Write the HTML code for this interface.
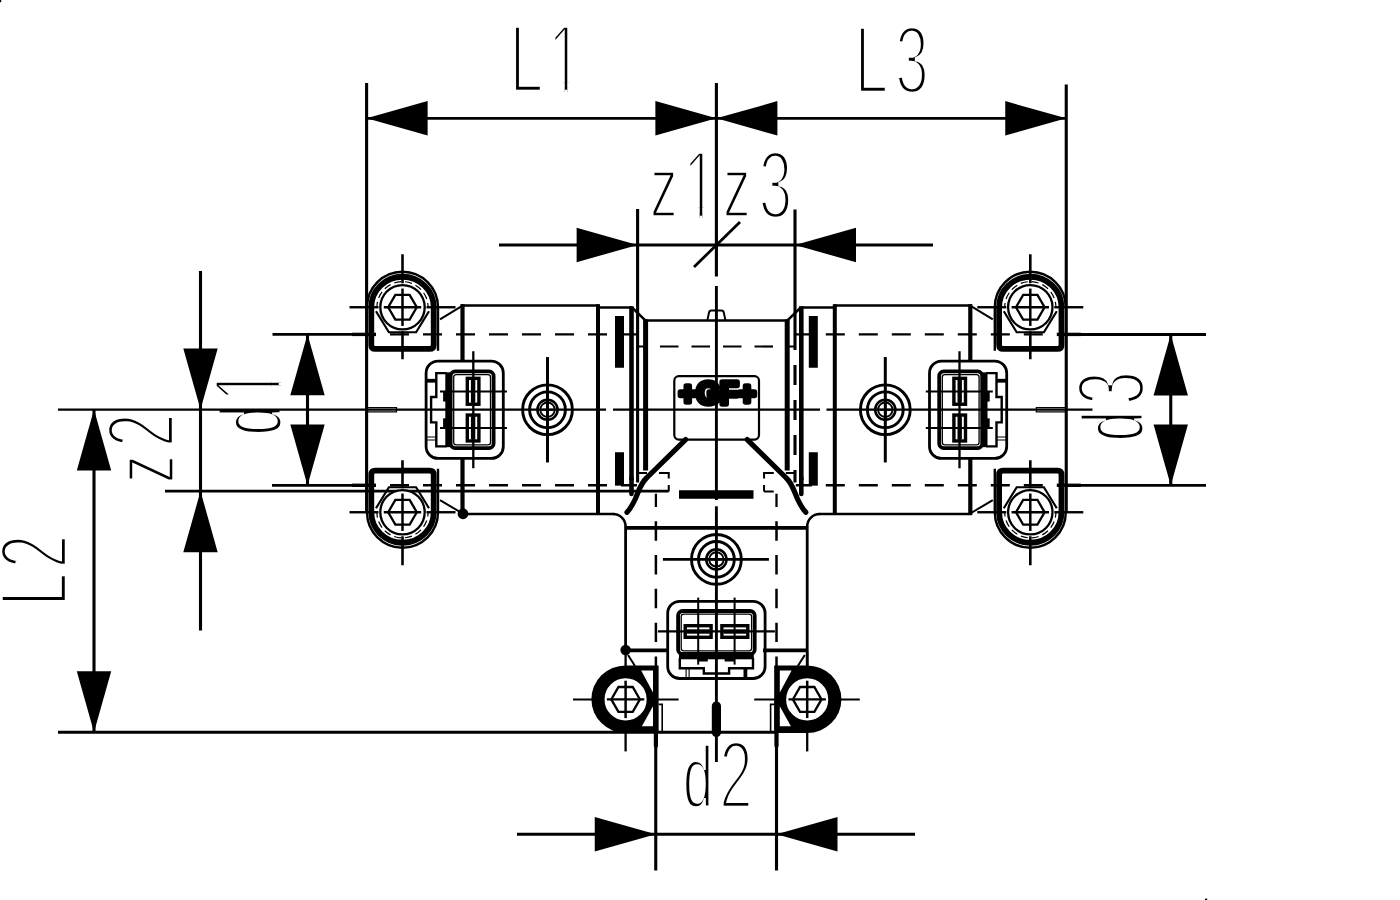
<!DOCTYPE html>
<html lang="en">
<head>
<meta charset="utf-8">
<title>T-fitting dimension drawing</title>
<style>
html,body{margin:0;padding:0;background:#fff;}
body{width:1400px;height:900px;overflow:hidden;}
svg{display:block;}
text{font-family:"Liberation Sans",sans-serif;}
.t text{font-size:97.0px;fill:#000;stroke:#fff;stroke-width:4.4px;stroke-linejoin:miter;}
.logo text{font-family:"Liberation Sans",sans-serif;font-weight:bold;fill:#000;stroke:#000;stroke-linejoin:round;}
</style>
</head>
<body>
<svg width="1400" height="900" viewBox="0 0 1400 900">
<rect x="0" y="0" width="1400" height="900" fill="#fff"/>
<clipPath id="c1" clipPathUnits="userSpaceOnUse"><rect x="-2000" y="-200" width="5000" height="189.95"/><rect x="910.82" y="-40" width="4.17" height="60"/><rect x="-2000" y="-200" width="2887.07" height="260"/><rect x="938.22" y="-200" width="2000" height="260"/></clipPath><clipPath id="c2" clipPathUnits="userSpaceOnUse"><rect x="-2000" y="-200" width="5000" height="189.95"/><rect x="1128.56" y="-40" width="4.17" height="60"/><rect x="-2000" y="-200" width="3104.81" height="260"/><rect x="1155.96" y="-200" width="2000" height="260"/></clipPath><clipPath id="c3" clipPathUnits="userSpaceOnUse"><rect x="-2000" y="-200" width="5000" height="189.95"/><rect x="830.17" y="-40" width="4.17" height="60"/><rect x="-2000" y="-200" width="2806.42" height="260"/><rect x="857.57" y="-200" width="2000" height="260"/></clipPath>
<g class="t"><text aria-label="L1" transform="translate(0,92.2) scale(0.62,1)" clip-path="url(#c1)"><tspan x="822.1" y="0">L</tspan><tspan x="884.22" y="0">1</tspan></text>
<text aria-label="L3" transform="translate(0,93.2) scale(0.62,1)"><tspan x="1378.55" y="0">L</tspan><tspan x="1444.11" y="0">3</tspan></text>
<text aria-label="z1" transform="translate(0,217.7) scale(0.62,1)" clip-path="url(#c2)"><tspan x="1048.8" y="-0.53" style="font-size:87.78px;stroke-width:3.34px">z</tspan><tspan x="1101.97" y="0">1</tspan></text>
<text aria-label="z3" transform="translate(0,217.7) scale(0.62,1)"><tspan x="1166.54" y="-0.53" style="font-size:87.78px;stroke-width:3.34px">z</tspan><tspan x="1223.94" y="0">3</tspan></text>
<text aria-label="d2" transform="translate(0,807.7) scale(0.62,1)"><tspan x="1101.56" y="-0.57" style="font-size:87.3px;stroke-width:3.26px">d</tspan><tspan x="1160.26" y="0">2</tspan></text>
<text aria-label="d1" transform="translate(281.2,900) rotate(-90) scale(0.62,1)" clip-path="url(#c3)"><tspan x="749.54" y="-0.57" style="font-size:87.3px;stroke-width:3.26px">d</tspan><tspan x="803.58" y="0">1</tspan></text>
<text aria-label="z2" transform="translate(174.2,900) rotate(-90) scale(0.62,1)"><tspan x="673" y="-0.53" style="font-size:87.78px;stroke-width:3.34px">z</tspan><tspan x="730.82" y="0">2</tspan></text>
<text aria-label="L2" transform="translate(67.2,900) rotate(-90) scale(0.62,1)"><tspan x="473.71" y="0">L</tspan><tspan x="535.26" y="0">2</tspan></text>
<text aria-label="d3" transform="translate(1143.95,900) rotate(-90) scale(0.62,1)"><tspan x="739.87" y="-0.57" style="font-size:87.3px;stroke-width:3.26px">d</tspan><tspan x="798.94" y="0">3</tspan></text></g>
<g class="d" fill="none" stroke="#000"><line x1="366.6" y1="83" x2="366.6" y2="512" stroke-width="3.1"/>
<line x1="1066.25" y1="84.5" x2="1066.25" y2="512" stroke-width="3.1"/>
<line x1="366.6" y1="118.3" x2="1066.25" y2="118.3" stroke-width="2.8"/>
<polygon points="366.6,118.3 427.6,101.1 427.6,135.5" fill="#000" stroke="none"/>
<polygon points="716.4,118.3 655.4,135.5 655.4,101.1" fill="#000" stroke="none"/>
<polygon points="716.4,118.3 777.4,101.1 777.4,135.5" fill="#000" stroke="none"/>
<polygon points="1066.25,118.3 1005.25,135.5 1005.25,101.1" fill="#000" stroke="none"/>
<line x1="637.6" y1="209" x2="637.6" y2="482.5" stroke-width="3.1"/>
<line x1="795" y1="209.5" x2="795" y2="350" stroke-width="3.1"/>
<line x1="795" y1="365" x2="795" y2="482.5" stroke-width="3.1" stroke-dasharray="20 15"/>
<line x1="499" y1="245" x2="933" y2="245" stroke-width="2.8"/>
<polygon points="637.6,245 576.6,262.2 576.6,227.8" fill="#000" stroke="none"/>
<polygon points="795,245 856,227.8 856,262.2" fill="#000" stroke="none"/>
<line x1="694" y1="267" x2="740" y2="222" stroke-width="2.8"/>
<line x1="272.5" y1="334.3" x2="367" y2="334.3" stroke-width="2.8"/>
<line x1="272" y1="485.4" x2="367" y2="485.4" stroke-width="2.8"/>
<line x1="307.5" y1="334.3" x2="307.5" y2="485.4" stroke-width="3.1"/>
<polygon points="307.5,334.3 324.7,395.3 290.3,395.3" fill="#000" stroke="none"/>
<polygon points="307.5,485.4 290.3,424.4 324.7,424.4" fill="#000" stroke="none"/>
<line x1="165" y1="491.2" x2="668.75" y2="491.2" stroke-width="2.8"/>
<line x1="200.5" y1="271" x2="200.5" y2="630.5" stroke-width="3.1"/>
<polygon points="200.5,409.6 183.3,348.6 217.7,348.6" fill="#000" stroke="none"/>
<polygon points="200.5,491.2 217.7,552.2 183.3,552.2" fill="#000" stroke="none"/>
<line x1="58" y1="732.3" x2="776" y2="732.3" stroke-width="2.9"/>
<line x1="94" y1="409.6" x2="94" y2="732.3" stroke-width="3.1"/>
<polygon points="94,409.6 111.2,470.6 76.8,470.6" fill="#000" stroke="none"/>
<polygon points="94,732.3 76.8,671.3 111.2,671.3" fill="#000" stroke="none"/>
<line x1="1057" y1="334.5" x2="1206" y2="334.5" stroke-width="2.8"/>
<line x1="1057" y1="485.4" x2="1206" y2="485.4" stroke-width="2.8"/>
<line x1="1170.75" y1="334.5" x2="1170.75" y2="485.4" stroke-width="3.1"/>
<polygon points="1170.75,334.5 1187.95,395.5 1153.55,395.5" fill="#000" stroke="none"/>
<polygon points="1170.75,485.4 1153.55,424.4 1187.95,424.4" fill="#000" stroke="none"/>
<line x1="655.75" y1="700" x2="655.75" y2="870.5" stroke-width="3.1"/>
<line x1="776.5" y1="700" x2="776.5" y2="870.5" stroke-width="3.1"/>
<line x1="517" y1="834.25" x2="915" y2="834.25" stroke-width="2.8"/>
<polygon points="655.75,834.25 594.75,851.45 594.75,817.05" fill="#000" stroke="none"/>
<polygon points="776.5,834.25 837.5,817.05 837.5,851.45" fill="#000" stroke="none"/>
<line x1="58" y1="409.6" x2="606" y2="409.6" stroke-width="2.4"/>
<line x1="613" y1="409.6" x2="820" y2="409.6" stroke-width="2.4"/>
<line x1="826.5" y1="409.6" x2="1092.5" y2="409.6" stroke-width="2.4"/>
<line x1="716.4" y1="83" x2="716.4" y2="276.5" stroke-width="3.1"/>
<line x1="716.4" y1="286" x2="716.4" y2="500" stroke-width="2.9"/>
<line x1="716.4" y1="506.3" x2="716.4" y2="762" stroke-width="2.9"/></g>
<g class="b" fill="none" stroke="#000"><g transform="translate(402.5,307.25) scale(1,1)"><line x1="-53" y1="0" x2="-24" y2="0" stroke-width="2.4"/><line x1="24" y1="0" x2="53" y2="0" stroke-width="2.4"/><line x1="0" y1="-53" x2="0" y2="-24" stroke-width="2.6"/><line x1="0" y1="24" x2="0" y2="52" stroke-width="2.6"/><path d="M -35.5,0 A 35.5 35.5 0 0 1 35.5,0 L 35.5,43.5" stroke-width="2.4"/><path d="M -31.2,0 A 31.2 30.5 0 0 1 31.2,0 L 31.2,37.7 Q 31.2,41.7 27.2,41.7 L -27.2,41.7 Q -31.2,41.7 -31.2,37.7 Z" stroke-width="5.8"/><path d="M -25.6,0 A 25.6 25.6 0 0 1 25.6,0" stroke-width="1.2" stroke-dasharray="7 4" stroke-dashoffset="1.5"/><path d="M -26.5,4 L -13.6,25 L 13.6,25 L 26.5,4" stroke-width="2.2"/></g>
<circle cx="402.5" cy="307.25" r="22.2" stroke-width="2.3" fill="#fff"/>
<polygon points="416.8,307.25 409.65,319.63 395.35,319.63 388.2,307.25 395.35,294.87 409.65,294.87" stroke-width="2.3"/>
<line x1="383.8" y1="307.25" x2="421.2" y2="307.25" stroke-width="2.3"/>
<line x1="402.5" y1="288.55" x2="402.5" y2="325.95" stroke-width="2.5"/>
<g transform="translate(402.5,512.25) scale(1,-1)"><line x1="-53" y1="0" x2="-24" y2="0" stroke-width="2.4"/><line x1="24" y1="0" x2="53" y2="0" stroke-width="2.4"/><line x1="0" y1="-53" x2="0" y2="-24" stroke-width="2.6"/><line x1="0" y1="24" x2="0" y2="52" stroke-width="2.6"/><path d="M -35.5,0 A 35.5 35.5 0 0 1 35.5,0 L 35.5,43.5" stroke-width="2.4"/><path d="M -31.2,0 A 31.2 30.5 0 0 1 31.2,0 L 31.2,37.7 Q 31.2,41.7 27.2,41.7 L -27.2,41.7 Q -31.2,41.7 -31.2,37.7 Z" stroke-width="5.8"/><path d="M -25.6,0 A 25.6 25.6 0 0 1 25.6,0" stroke-width="1.2" stroke-dasharray="7 4" stroke-dashoffset="1.5"/><path d="M -26.5,4 L -13.6,25 L 13.6,25 L 26.5,4" stroke-width="2.2"/></g>
<circle cx="402.5" cy="512.25" r="22.2" stroke-width="2.3" fill="#fff"/>
<polygon points="416.8,512.25 409.65,524.63 395.35,524.63 388.2,512.25 395.35,499.87 409.65,499.87" stroke-width="2.3"/>
<line x1="383.8" y1="512.25" x2="421.2" y2="512.25" stroke-width="2.3"/>
<line x1="402.5" y1="493.55" x2="402.5" y2="530.95" stroke-width="2.5"/>
<g transform="translate(1030.3,307.25) scale(-1,1)"><line x1="-53" y1="0" x2="-24" y2="0" stroke-width="2.4"/><line x1="24" y1="0" x2="53" y2="0" stroke-width="2.4"/><line x1="0" y1="-53" x2="0" y2="-24" stroke-width="2.6"/><line x1="0" y1="24" x2="0" y2="52" stroke-width="2.6"/><path d="M -35.5,0 A 35.5 35.5 0 0 1 35.5,0 L 35.5,43.5" stroke-width="2.4"/><path d="M -31.2,0 A 31.2 30.5 0 0 1 31.2,0 L 31.2,37.7 Q 31.2,41.7 27.2,41.7 L -27.2,41.7 Q -31.2,41.7 -31.2,37.7 Z" stroke-width="5.8"/><path d="M -25.6,0 A 25.6 25.6 0 0 1 25.6,0" stroke-width="1.2" stroke-dasharray="7 4" stroke-dashoffset="1.5"/><path d="M -26.5,4 L -13.6,25 L 13.6,25 L 26.5,4" stroke-width="2.2"/></g>
<circle cx="1030.3" cy="307.25" r="22.2" stroke-width="2.3" fill="#fff"/>
<polygon points="1044.6,307.25 1037.45,319.63 1023.15,319.63 1016,307.25 1023.15,294.87 1037.45,294.87" stroke-width="2.3"/>
<line x1="1011.6" y1="307.25" x2="1049" y2="307.25" stroke-width="2.3"/>
<line x1="1030.3" y1="288.55" x2="1030.3" y2="325.95" stroke-width="2.5"/>
<g transform="translate(1030.3,512.25) scale(-1,-1)"><line x1="-53" y1="0" x2="-24" y2="0" stroke-width="2.4"/><line x1="24" y1="0" x2="53" y2="0" stroke-width="2.4"/><line x1="0" y1="-53" x2="0" y2="-24" stroke-width="2.6"/><line x1="0" y1="24" x2="0" y2="52" stroke-width="2.6"/><path d="M -35.5,0 A 35.5 35.5 0 0 1 35.5,0 L 35.5,43.5" stroke-width="2.4"/><path d="M -31.2,0 A 31.2 30.5 0 0 1 31.2,0 L 31.2,37.7 Q 31.2,41.7 27.2,41.7 L -27.2,41.7 Q -31.2,41.7 -31.2,37.7 Z" stroke-width="5.8"/><path d="M -25.6,0 A 25.6 25.6 0 0 1 25.6,0" stroke-width="1.2" stroke-dasharray="7 4" stroke-dashoffset="1.5"/><path d="M -26.5,4 L -13.6,25 L 13.6,25 L 26.5,4" stroke-width="2.2"/></g>
<circle cx="1030.3" cy="512.25" r="22.2" stroke-width="2.3" fill="#fff"/>
<polygon points="1044.6,512.25 1037.45,524.63 1023.15,524.63 1016,512.25 1023.15,499.87 1037.45,499.87" stroke-width="2.3"/>
<line x1="1011.6" y1="512.25" x2="1049" y2="512.25" stroke-width="2.3"/>
<line x1="1030.3" y1="493.55" x2="1030.3" y2="530.95" stroke-width="2.5"/>
<g><line x1="440" y1="319.4" x2="463" y2="305.4" stroke-width="2"/><line x1="440" y1="500.1" x2="463" y2="513.75" stroke-width="2"/><line x1="461" y1="305.4" x2="599" y2="305.4" stroke-width="2.5"/><line x1="461" y1="513.9" x2="614" y2="513.9" stroke-width="2.5"/><line x1="462.5" y1="304.2" x2="462.5" y2="362" stroke-width="4.2"/><line x1="462.5" y1="458" x2="462.5" y2="515" stroke-width="4.2"/><line x1="598" y1="304.2" x2="598" y2="515" stroke-width="4"/><line x1="598" y1="307.5" x2="632" y2="307.5" stroke-width="2.5"/><line x1="631.5" y1="306.3" x2="631.5" y2="480" stroke-width="4.6"/><path d="M 631.5,478 L 631.5,494" stroke-width="4.6" stroke-linecap="round"/><line x1="632" y1="307.5" x2="645.6" y2="320.6" stroke-width="2.5"/><line x1="645.6" y1="319.4" x2="645.6" y2="470.6" stroke-width="5"/><line x1="637.5" y1="346.5" x2="645.6" y2="346.5" stroke-width="2"/><line x1="637.5" y1="473" x2="647" y2="473" stroke-width="2"/><rect x="615" y="316" width="9" height="51.75" fill="#000" stroke="none"/><rect x="615" y="452.25" width="9" height="33.4" fill="#000" stroke="none"/><line x1="390" y1="334.4" x2="637" y2="334.4" stroke-width="2.4" stroke-dasharray="19 14"/><line x1="390" y1="485.3" x2="637" y2="485.3" stroke-width="2.4" stroke-dasharray="19 14"/><path d="M 613,513.9 A 12.6 12.6 0 0 1 625.6,526.5" stroke-width="2.5"/><path d="M 685.6,439.6 L 647,477.5 C 640,484 638.5,492 635.5,498.5 C 633,504 630.5,508.5 627,512.3" stroke-width="5.2" stroke-linecap="round" stroke-linejoin="round"/><path d="M 659,473 L 668.75,473 L 668.75,478.5 M 668.75,485 L 668.75,491.5" stroke-width="2"/><path d="M 367,407.6 L 396.5,407.6 L 396.5,411.8 L 367,411.8" stroke-width="1.2"/><line x1="352" y1="334.4" x2="376" y2="334.4" stroke-width="3.4"/><line x1="352" y1="485.3" x2="376" y2="485.3" stroke-width="3.4"/></g>
<g transform="translate(1432.8,0) scale(-1,1)"><line x1="440" y1="319.4" x2="463" y2="305.4" stroke-width="2"/><line x1="440" y1="500.1" x2="463" y2="513.75" stroke-width="2"/><line x1="461" y1="305.4" x2="599" y2="305.4" stroke-width="2.5"/><line x1="461" y1="513.9" x2="614" y2="513.9" stroke-width="2.5"/><line x1="462.5" y1="304.2" x2="462.5" y2="362" stroke-width="4.2"/><line x1="462.5" y1="458" x2="462.5" y2="515" stroke-width="4.2"/><line x1="598" y1="304.2" x2="598" y2="515" stroke-width="4"/><line x1="598" y1="307.5" x2="632" y2="307.5" stroke-width="2.5"/><line x1="631.5" y1="306.3" x2="631.5" y2="480" stroke-width="4.6"/><path d="M 631.5,478 L 631.5,494" stroke-width="4.6" stroke-linecap="round"/><line x1="632" y1="307.5" x2="645.6" y2="320.6" stroke-width="2.5"/><line x1="645.6" y1="319.4" x2="645.6" y2="470.6" stroke-width="5"/><line x1="637.5" y1="346.5" x2="645.6" y2="346.5" stroke-width="2"/><line x1="637.5" y1="473" x2="647" y2="473" stroke-width="2"/><rect x="615" y="316" width="9" height="51.75" fill="#000" stroke="none"/><rect x="615" y="452.25" width="9" height="33.4" fill="#000" stroke="none"/><line x1="390" y1="334.4" x2="637" y2="334.4" stroke-width="2.4" stroke-dasharray="19 14"/><line x1="390" y1="485.3" x2="637" y2="485.3" stroke-width="2.4" stroke-dasharray="19 14"/><path d="M 613,513.9 A 12.6 12.6 0 0 1 625.6,526.5" stroke-width="2.5"/><path d="M 685.6,439.6 L 647,477.5 C 640,484 638.5,492 635.5,498.5 C 633,504 630.5,508.5 627,512.3" stroke-width="5.2" stroke-linecap="round" stroke-linejoin="round"/><path d="M 659,473 L 668.75,473 L 668.75,478.5 M 668.75,485 L 668.75,491.5" stroke-width="2"/><path d="M 367,407.6 L 396.5,407.6 L 396.5,411.8 L 367,411.8" stroke-width="1.2"/><line x1="352" y1="334.4" x2="376" y2="334.4" stroke-width="3.4"/><line x1="352" y1="485.3" x2="376" y2="485.3" stroke-width="3.4"/></g>
<line x1="764" y1="491.5" x2="773.75" y2="491.5" stroke-width="2"/>
<circle cx="463" cy="513.75" r="5.4" fill="#000" stroke="none"/>
<line x1="645.6" y1="320.6" x2="787.2" y2="320.6" stroke-width="2.5"/>
<path d="M 707.3,320.6 L 709,312.6 Q 709.4,310.6 711.4,310.6 L 721.4,310.6 Q 723.4,310.6 723.8,312.6 L 725.5,320.6" stroke-width="2"/>
<line x1="660" y1="346.5" x2="773" y2="346.5" stroke-width="2.2" stroke-dasharray="18.5 13"/>
<rect x="679" y="490.25" width="74.5" height="8.5" rx="0" fill="#000" stroke="none"/>
<line x1="625.6" y1="527.9" x2="807.2" y2="527.9" stroke-width="3.6"/>
<line x1="625.6" y1="526" x2="625.6" y2="650" stroke-width="2.8"/>
<line x1="807.2" y1="526" x2="807.2" y2="668" stroke-width="2.8"/>
<line x1="655.9" y1="521.25" x2="655.9" y2="700" stroke-width="2.5" stroke-dasharray="19.4 14.4"/>
<line x1="776.5" y1="521.25" x2="776.5" y2="700" stroke-width="2.5" stroke-dasharray="19.4 14.4"/>
<line x1="655.9" y1="493.75" x2="655.9" y2="507" stroke-width="2.3"/>
<line x1="776.5" y1="493.75" x2="776.5" y2="507" stroke-width="2.3"/>
<circle cx="625.6" cy="650" r="5.2" fill="#000" stroke="none"/>
<line x1="625.6" y1="650.4" x2="669" y2="650.4" stroke-width="3.6"/>
<line x1="763" y1="650.4" x2="807.2" y2="650.4" stroke-width="3.6"/>
<line x1="628" y1="655" x2="635" y2="666" stroke-width="2"/>
<line x1="804.8" y1="655" x2="797.8" y2="666" stroke-width="2"/>
<path d="M 655.9,700 L 655.9,746" stroke-width="4.2" stroke-linecap="round"/>
<path d="M 776.5,700 L 776.5,746" stroke-width="4.2" stroke-linecap="round"/>
<path d="M 716.4,706 L 716.4,732.5" stroke-width="9.2" stroke-linecap="round"/>
<g transform="translate(625.6,699.4) scale(1,1)"><line x1="-52.6" y1="0" x2="53" y2="0" stroke-width="2"/><line x1="0" y1="-48" x2="0" y2="52" stroke-width="2.3"/><path d="M 0,-34 L 33,-34 L 33,33.6 L 0,33.6 A 34.2 33.8 0 0 1 0,-34 Z" fill="#000" stroke="none"/><polygon points="15.6,-28.8 27.4,-28.8 27.4,-6.9" fill="#fff" stroke="none"/><polygon points="27.4,6.9 27.4,26.9 16.3,26.9" fill="#fff" stroke="none"/><path d="M 33,5 L 36.6,5 L 36.6,32" stroke-width="1.6"/></g>
<circle cx="625.6" cy="699.4" r="22.2" stroke-width="2.3" fill="#fff"/>
<polygon points="639.9,699.4 632.75,711.78 618.45,711.78 611.3,699.4 618.45,687.02 632.75,687.02" stroke-width="2.3"/>
<line x1="606.9" y1="699.4" x2="644.3" y2="699.4" stroke-width="2.3"/>
<line x1="625.6" y1="680.7" x2="625.6" y2="718.1" stroke-width="2.5"/>
<g transform="translate(807.2,699.4) scale(-1,1)"><line x1="-52.6" y1="0" x2="53" y2="0" stroke-width="2"/><line x1="0" y1="-48" x2="0" y2="52" stroke-width="2.3"/><path d="M 0,-34 L 33,-34 L 33,33.6 L 0,33.6 A 34.2 33.8 0 0 1 0,-34 Z" fill="#000" stroke="none"/><polygon points="15.6,-28.8 27.4,-28.8 27.4,-6.9" fill="#fff" stroke="none"/><polygon points="27.4,6.9 27.4,26.9 16.3,26.9" fill="#fff" stroke="none"/><path d="M 33,5 L 36.6,5 L 36.6,32" stroke-width="1.6"/></g>
<circle cx="807.2" cy="699.4" r="22.2" stroke-width="2.3" fill="#fff"/>
<polygon points="821.5,699.4 814.35,711.78 800.05,711.78 792.9,699.4 800.05,687.02 814.35,687.02" stroke-width="2.3"/>
<line x1="788.5" y1="699.4" x2="825.9" y2="699.4" stroke-width="2.3"/>
<line x1="807.2" y1="680.7" x2="807.2" y2="718.1" stroke-width="2.5"/>
<circle cx="547.5" cy="409.75" r="24.9" stroke-width="2.9"/>
<circle cx="547.5" cy="409.75" r="17.9" stroke-width="2.9"/>
<circle cx="547.5" cy="409.75" r="10.1" stroke-width="2.5"/>
<circle cx="547.5" cy="409.75" r="7.2" stroke-width="1.9"/>
<line x1="542" y1="409.75" x2="553" y2="409.75" stroke-width="2"/>
<line x1="547.5" y1="404.25" x2="547.5" y2="415.25" stroke-width="2.3"/>
<line x1="547.5" y1="357.05" x2="547.5" y2="462.45" stroke-width="3"/>
<circle cx="885.3" cy="409.75" r="24.9" stroke-width="2.9"/>
<circle cx="885.3" cy="409.75" r="17.9" stroke-width="2.9"/>
<circle cx="885.3" cy="409.75" r="10.1" stroke-width="2.5"/>
<circle cx="885.3" cy="409.75" r="7.2" stroke-width="1.9"/>
<line x1="879.8" y1="409.75" x2="890.8" y2="409.75" stroke-width="2"/>
<line x1="885.3" y1="404.25" x2="885.3" y2="415.25" stroke-width="2.3"/>
<line x1="885.3" y1="357.05" x2="885.3" y2="462.45" stroke-width="3"/>
<circle cx="716.4" cy="559.4" r="24.9" stroke-width="2.9"/>
<circle cx="716.4" cy="559.4" r="17.9" stroke-width="2.9"/>
<circle cx="716.4" cy="559.4" r="10.1" stroke-width="2.5"/>
<circle cx="716.4" cy="559.4" r="7.2" stroke-width="1.9"/>
<line x1="710.9" y1="559.4" x2="721.9" y2="559.4" stroke-width="2"/>
<line x1="716.4" y1="553.9" x2="716.4" y2="564.9" stroke-width="2.3"/>
<line x1="662.9" y1="559.4" x2="768.9" y2="559.4" stroke-width="2.6"/>
<g transform="translate(464.7,409.75)"><rect x="-38.6" y="-48.7" width="77.2" height="97.4" rx="12" stroke-width="2.8"/><rect x="-14.1" y="-38.3" width="43" height="76.6" rx="4.6" stroke-width="3.8"/><rect x="-11" y="-35.2" width="36.8" height="70.4" rx="2.6" stroke-width="1.3"/><rect x="-19.4" y="-37.4" width="4.8" height="74.8" fill="#000" stroke="none"/><rect x="-21.6" y="-18.4" width="3" height="10.2" fill="#000" stroke="none"/><rect x="-21.6" y="8.6" width="3" height="10.2" fill="#000" stroke="none"/><path d="M -18,-36.6 L -28.4,-36.6 L -28.4,-12.7 L -33.6,-12.7 L -33.6,12.6 L -28.4,12.6 L -28.4,36.6 L -18,36.6" stroke-width="2.4"/><path d="M -38.6,-29 L -28.8,-29" stroke-width="3.8"/><path d="M -38.6,27.3 L -28.8,27.3 M -38.6,30.3 L -28.8,30.3" stroke-width="1.1"/><rect x="2.6" y="-31.4" width="11.6" height="25.9" stroke-width="3.4"/><line x1="8.4" y1="-30.1" x2="8.4" y2="-7.1" stroke-width="4.4"/><rect x="2.6" y="5.3" width="11.6" height="25.9" stroke-width="3.4"/><line x1="8.4" y1="6.6" x2="8.4" y2="29.6" stroke-width="4.4"/><line x1="-24.7" y1="-18.2" x2="42.3" y2="-18.2" stroke-width="2"/><line x1="-24.7" y1="18.2" x2="42.3" y2="18.2" stroke-width="2"/><line x1="8.6" y1="-58.5" x2="8.6" y2="58.5" stroke-width="2.3"/></g>
<g transform="translate(968.1,409.75) scale(-1,1)"><rect x="-38.6" y="-48.7" width="77.2" height="97.4" rx="12" stroke-width="2.8"/><rect x="-14.1" y="-38.3" width="43" height="76.6" rx="4.6" stroke-width="3.8"/><rect x="-11" y="-35.2" width="36.8" height="70.4" rx="2.6" stroke-width="1.3"/><rect x="-19.4" y="-37.4" width="4.8" height="74.8" fill="#000" stroke="none"/><rect x="-21.6" y="-18.4" width="3" height="10.2" fill="#000" stroke="none"/><rect x="-21.6" y="8.6" width="3" height="10.2" fill="#000" stroke="none"/><path d="M -18,-36.6 L -28.4,-36.6 L -28.4,-12.7 L -33.6,-12.7 L -33.6,12.6 L -28.4,12.6 L -28.4,36.6 L -18,36.6" stroke-width="2.4"/><path d="M -38.6,-29 L -28.8,-29" stroke-width="3.8"/><path d="M -38.6,27.3 L -28.8,27.3 M -38.6,30.3 L -28.8,30.3" stroke-width="1.1"/><rect x="2.6" y="-31.4" width="11.6" height="25.9" stroke-width="3.4"/><line x1="8.4" y1="-30.1" x2="8.4" y2="-7.1" stroke-width="4.4"/><rect x="2.6" y="5.3" width="11.6" height="25.9" stroke-width="3.4"/><line x1="8.4" y1="6.6" x2="8.4" y2="29.6" stroke-width="4.4"/><line x1="-24.7" y1="-18.2" x2="42.3" y2="-18.2" stroke-width="2"/><line x1="-24.7" y1="18.2" x2="42.3" y2="18.2" stroke-width="2"/><line x1="8.6" y1="-58.5" x2="8.6" y2="58.5" stroke-width="2.3"/></g>
<g transform="matrix(0,-1,-1,0,716.4,639.9)"><rect x="-38.6" y="-48.7" width="77.2" height="97.4" rx="12" stroke-width="2.8"/><rect x="-14.1" y="-38.3" width="43" height="76.6" rx="4.6" stroke-width="3.8"/><rect x="-11" y="-35.2" width="36.8" height="70.4" rx="2.6" stroke-width="1.3"/><rect x="-19.4" y="-37.4" width="4.8" height="74.8" fill="#000" stroke="none"/><rect x="-21.6" y="-18.4" width="3" height="10.2" fill="#000" stroke="none"/><rect x="-21.6" y="8.6" width="3" height="10.2" fill="#000" stroke="none"/><path d="M -18,-36.6 L -28.4,-36.6 L -28.4,-12.7 L -33.6,-12.7 L -33.6,12.6 L -28.4,12.6 L -28.4,36.6 L -18,36.6" stroke-width="2.4"/><path d="M -38.6,-29 L -28.8,-29" stroke-width="3.8"/><path d="M -38.6,27.3 L -28.8,27.3 M -38.6,30.3 L -28.8,30.3" stroke-width="1.1"/><rect x="2.6" y="-31.4" width="11.6" height="25.9" stroke-width="3.4"/><line x1="8.4" y1="-30.1" x2="8.4" y2="-7.1" stroke-width="4.4"/><rect x="2.6" y="5.3" width="11.6" height="25.9" stroke-width="3.4"/><line x1="8.4" y1="6.6" x2="8.4" y2="29.6" stroke-width="4.4"/><line x1="-24.7" y1="-18.2" x2="42.3" y2="-18.2" stroke-width="2"/><line x1="-24.7" y1="18.2" x2="42.3" y2="18.2" stroke-width="2"/><line x1="8.6" y1="-58.5" x2="8.6" y2="58.5" stroke-width="2.3"/></g>
<rect x="0" y="0" width="1.2" height="2.2" rx="0" fill="#000" stroke="none"/>
<rect x="1205" y="898.6" width="2.2" height="1.4" rx="0" fill="#000" stroke="none"/></g>
<g class="logo" style="will-change:opacity;filter:grayscale(1)"><rect x="674.3" y="376.2" width="84.7" height="63.4" rx="4.5" fill="none" stroke="#000" stroke-width="2.2"/>
<text transform="translate(717.4,404) scale(0.97,1)" x="0" y="0" text-anchor="middle" font-size="31" stroke-width="5.5">+GF+</text></g>
</svg>
</body>
</html>
